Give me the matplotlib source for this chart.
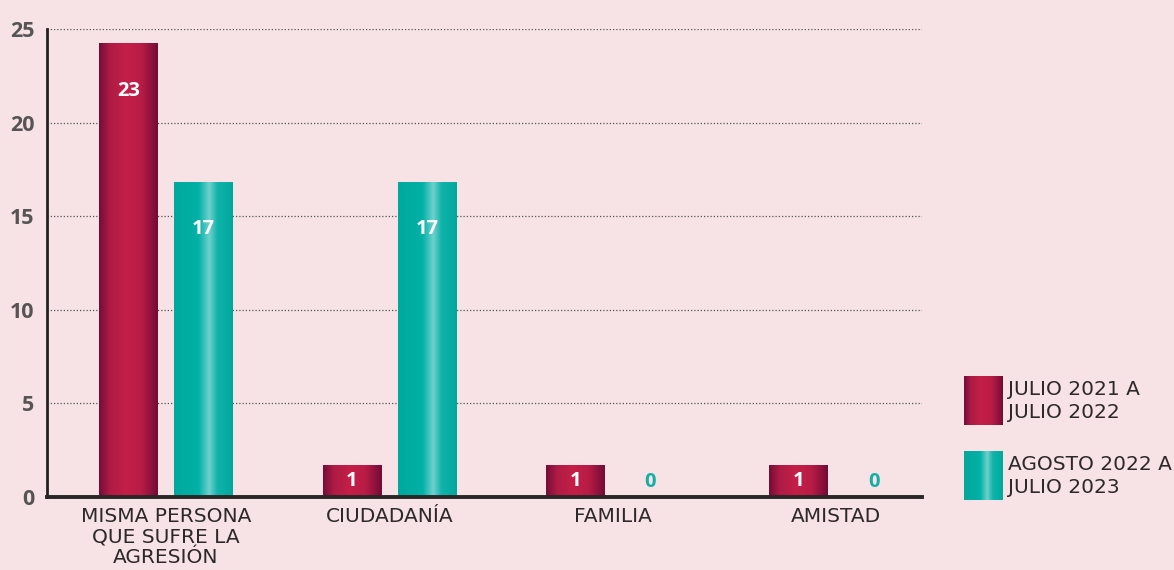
import numpy as np
import matplotlib
matplotlib.use("Agg")
import matplotlib.pyplot as plt
from matplotlib.colors import LinearSegmentedColormap

# ---- data ----
categories = ["MISMA PERSONA\nQUE SUFRE LA\nAGRESIÓN", "CIUDADANÍA", "FAMILIA", "AMISTAD"]
series_names = ["JULIO 2021 A\nJULIO 2022", "AGOSTO 2022 A\nJULIO 2023"]
labels_2122 = [23, 1, 1, 1]
labels_2223 = [17, 17, 0, 0]
# bar heights as drawn in the picture
heights_2122 = [24.2, 1.7, 1.7, 1.7]
heights_2223 = [16.8, 16.8, 0, 0]
yticks = [0, 5, 10, 15, 20, 25]

BG = "#f7e3e5"
red_cmap = LinearSegmentedColormap.from_list("r", [(0, "#740c38"), (0.18, "#ad1b45"),
                                                   (0.45, "#c41f48"), (0.72, "#b81c45"),
                                                   (1, "#730b37")])
teal_cmap = LinearSegmentedColormap.from_list("t", [(0, "#00a89c"), (0.42, "#03b1a7"),
                                                    (0.6, "#70d0ce"), (0.74, "#10b3aa"),
                                                    (1, "#00a89c")])
grad = np.linspace(0, 1, 256).reshape(1, -1)

plt.rcParams["font.family"] = ["Open Sans", "DejaVu Sans"]
LABEL_FONT = ["DejaVu Sans"]
fig = plt.figure(figsize=(11.74, 5.70), dpi=100, facecolor=BG)
ax = fig.add_axes([47 / 1174, 1 - 497 / 570, (922 - 47) / 1174, (497 - 29) / 570])
ax.set_facecolor(BG)

x = np.arange(len(categories))
w = 0.26
off = 0.168
bars_r = ax.bar(x - off, heights_2122, w, color="none", zorder=3)
bars_t = ax.bar(x + off, heights_2223, w, color="none", zorder=3)

def paint(bars, cmap):
    for p in bars:
        x0, y0, bw, bh = p.get_x(), p.get_y(), p.get_width(), p.get_height()
        if bh <= 0:
            continue
        ax.imshow(grad, cmap=cmap, aspect="auto", extent=[x0, x0 + bw, y0, y0 + bh],
                  zorder=3, interpolation="bicubic")

paint(bars_r, red_cmap)
paint(bars_t, teal_cmap)

def annotate(bars, labels, zero_color):
    for p, lab in zip(bars, labels):
        h = p.get_height()
        cx = p.get_x() + p.get_width() / 2
        if h <= 0:
            ax.text(cx, 0.8, str(lab), ha="center", va="center", color=zero_color,
                    fontsize=14.5, fontweight="bold", zorder=4)
        else:
            y = h - min(h / 2, 2.5)
            ax.text(cx, y, str(lab), ha="center", va="center", color="white",
                    fontsize=14.5, fontweight="bold", zorder=4)

annotate(bars_r, labels_2122, "#c41f48")
annotate(bars_t, labels_2223, "#12b0a6")

ax.set_xlim(-0.532, 3.385)
ax.set_ylim(0, 25)
ax.set_yticks(yticks)
ax.set_yticklabels([str(v) for v in yticks], fontsize=15.5, fontweight="bold", color="#555555")
ax.set_xticks(x)
ax.set_xticklabels(categories, fontsize=14.5, color="#2d292a", linespacing=1.12,
                   family=LABEL_FONT)
ax.tick_params(axis="both", length=0)
ax.tick_params(axis="y", pad=9)
ax.tick_params(axis="x", pad=7)
ax.yaxis.grid(True, linestyle=(0, (1, 1.6)), color="#555555", linewidth=0.9, zorder=1)
ax.set_axisbelow(True)
for s in ["top", "right"]:
    ax.spines[s].set_visible(False)
ax.spines["left"].set_color("#222222")
ax.spines["left"].set_linewidth(2)
ax.spines["bottom"].set_color("#2a2626")
ax.spines["bottom"].set_linewidth(2.8)
ax.spines["bottom"].set_zorder(5)

# legend
leg_items = [(series_names[0], red_cmap, 376), (series_names[1], teal_cmap, 451)]
for name, cmap, top in leg_items:
    lax = fig.add_axes([964 / 1174, 1 - (top + 49) / 570, 39 / 1174, 49 / 570])
    lax.imshow(grad, cmap=cmap, aspect="auto", interpolation="bicubic")
    lax.axis("off")
    fig.text(1008 / 1174, 1 - (top + 25) / 570, name, fontsize=14.5, color="#2d292a",
             va="center", ha="left", linespacing=1.3, family=LABEL_FONT)

fig.savefig("out.png", dpi=100, facecolor=BG)
